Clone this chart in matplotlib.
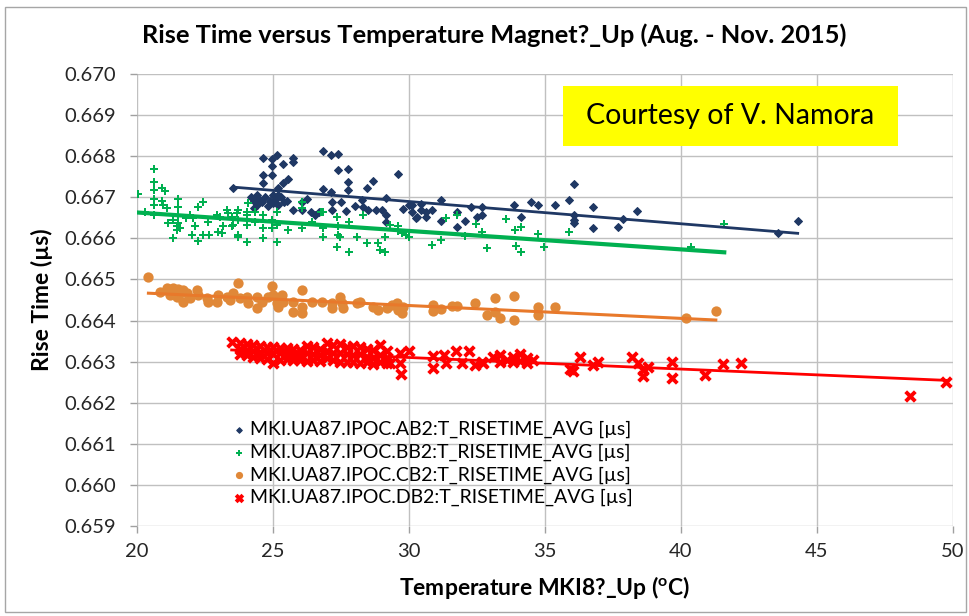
# -*- coding: utf-8 -*-
"""Rise time vs temperature (Aug. - Nov. 2015): 4 IPOC channels + linear trend lines."""
import numpy as np
import matplotlib; matplotlib.use('Agg')
import matplotlib.pyplot as plt
from matplotlib.patches import Rectangle

plt.rcParams['font.family'] = ['Lato', 'DejaVu Sans']
plt.rcParams['mathtext.fontset'] = 'custom'
plt.rcParams['mathtext.rm'] = 'Lato'
plt.rcParams['mathtext.bf'] = 'Lato:bold'

# --- AB2 (blue diamonds)
ab_x = [23.54, 24.64, 24.95, 25.14, 25.36, 25.75, 25.75, 24.64, 24.95, 24.64, 24.95, 25.56, 25.38,
        25.19, 26.85, 27.13, 27.38, 27.38, 27.75, 27.75, 27.75, 26.83, 27.13, 28.69, 28.45, 29.58,
        29.15, 28.26, 24.2, 24.3, 24.4, 24.4, 24.5, 24.6, 24.7, 24.8, 24.9, 25.0, 25.0, 25.1, 25.2,
        25.3, 25.4, 24.3, 25.2, 25.5, 25.75, 26.05, 26.05, 26.24, 26.40, 26.55, 26.70, 27.16, 27.16,
        27.50, 27.70, 28.00, 28.30, 28.50, 28.80, 29.00, 29.15, 29.15, 29.77, 30.10, 30.10, 30.30,
        30.00, 30.26, 30.45, 30.45, 30.63, 30.63, 30.85, 31.18, 31.18, 31.75, 31.75, 32.06, 32.27,
        32.49, 32.67, 32.67, 33.87, 34.10, 34.49, 34.75, 35.37, 35.89, 36.07, 36.07, 36.07, 36.07,
        36.78, 36.78, 37.67, 37.88, 38.37, 43.58, 44.29]
ab_y = [0.66722, 0.66795, 0.66792, 0.66803, 0.66781, 0.66795, 0.66787, 0.66754, 0.66754, 0.66734,
        0.66775, 0.66744, 0.66734, 0.66722, 0.66813, 0.66803, 0.66805, 0.66766, 0.66768, 0.66738,
        0.66718, 0.66720, 0.66714, 0.66740, 0.66723, 0.66756, 0.66698, 0.66693, 0.66700, 0.66690,
        0.66705, 0.66680, 0.66695, 0.66688, 0.66700, 0.66678, 0.66692, 0.66705, 0.66685, 0.66695,
        0.66680, 0.66700, 0.66688, 0.66675, 0.66705, 0.66692, 0.66669, 0.66689, 0.66669, 0.66695,
        0.66665, 0.66657, 0.66665, 0.66689, 0.66669, 0.66689, 0.66666, 0.66679, 0.66677, 0.66669,
        0.66669, 0.66669, 0.66657, 0.66640, 0.66671, 0.66680, 0.66665, 0.66651, 0.66681, 0.66649,
        0.66683, 0.66669, 0.66665, 0.66651, 0.66669, 0.66693, 0.66643, 0.66665, 0.66628, 0.66643,
        0.66677, 0.66651, 0.66676, 0.66657, 0.66681, 0.66651, 0.66689, 0.66681, 0.66680, 0.66693,
        0.66732, 0.66657, 0.66645, 0.66638, 0.66676, 0.66626, 0.66628, 0.66646, 0.66666, 0.66614,
        0.66642]

# --- BB2 (green plus)
bb_x = [20.05, 20.63, 20.63, 20.63, 20.63, 20.63, 20.63, 20.91, 21.03, 20.91, 20.97, 21.09, 21.15,
        21.33, 21.46, 21.52, 21.52, 21.52, 21.52, 21.46, 21.58, 21.33, 21.95, 22.07, 22.13, 22.25,
        22.44, 22.01, 22.25, 22.44, 22.66, 22.93, 23.05, 23.17, 22.99, 23.11, 23.36, 23.54, 23.66,
        23.73, 24.03, 24.03, 24.09, 20.30, 21.80, 22.60, 23.30, 23.48, 23.48, 23.72, 23.72, 23.72,
        24.03, 24.03, 24.34, 24.34, 24.64, 24.64, 24.64, 24.95, 24.95, 25.13, 25.13, 25.13, 25.56,
        26.05, 26.05, 26.05, 26.42, 26.75, 26.85, 26.85, 26.85, 27.35, 27.40, 27.40, 27.45, 27.35,
        27.80, 27.80, 28.10, 28.30, 28.45, 28.85, 28.95, 29.10, 29.10, 29.30, 29.60, 29.60, 29.90,
        29.73, 30.00, 30.86, 31.18, 31.36, 31.75, 32.06, 32.46, 32.67, 32.88, 33.56, 33.90, 33.92,
        34.10, 34.10, 34.75, 34.96, 35.89, 40.37, 41.59]
bb_y = [0.66707, 0.66768, 0.66738, 0.66718, 0.66697, 0.66681, 0.66657, 0.66722, 0.66715, 0.66691,
        0.66681, 0.66673, 0.66637, 0.66645, 0.66629, 0.66697, 0.66677, 0.66657, 0.66637, 0.66620,
        0.66625, 0.66602, 0.66657, 0.66649, 0.66629, 0.66677, 0.66689, 0.66608, 0.66594, 0.66607,
        0.66608, 0.66657, 0.66653, 0.66629, 0.66616, 0.66612, 0.66661, 0.66633, 0.66661, 0.66608,
        0.66592, 0.66665, 0.66685, 0.66665, 0.66650, 0.66640, 0.66669, 0.66653, 0.66629, 0.66669,
        0.66645, 0.66604, 0.66657, 0.66633, 0.66665, 0.66641, 0.66657, 0.66625, 0.66600, 0.66645,
        0.66625, 0.66665, 0.66633, 0.66592, 0.66621, 0.66689, 0.66673, 0.66625, 0.66641, 0.66665,
        0.66665, 0.66625, 0.66604, 0.66653, 0.66629, 0.66609, 0.66604, 0.66580, 0.66641, 0.66568,
        0.66603, 0.66657, 0.66588, 0.66588, 0.66572, 0.66568, 0.66604, 0.66633, 0.66629, 0.66617,
        0.66608, 0.66612, 0.66604, 0.66584, 0.66596, 0.66649, 0.66657, 0.66606, 0.66636, 0.66616,
        0.66576, 0.66646, 0.66620, 0.66581, 0.66567, 0.66627, 0.66611, 0.66579, 0.66616, 0.66579,
        0.66634]

# --- CB2 (orange dots)
cb_x = [20.42, 23.72, 24.95, 26.05, 21.09, 21.34, 21.52, 21.70, 21.22, 21.46, 21.70, 21.95, 22.19,
        22.25, 22.56, 22.62, 22.99, 22.93, 23.30, 23.42, 23.54, 23.79, 24.03, 24.09, 24.40, 24.40,
        24.58, 24.83, 25.01, 25.14, 25.32, 25.38, 25.20, 25.75, 25.73, 26.05, 26.05, 26.42, 26.79,
        27.16, 27.16, 27.47, 27.53, 27.59, 28.08, 28.20, 28.69, 28.87, 29.18, 29.36, 29.55, 29.61,
        29.73, 29.79, 20.85, 21.58, 21.83, 21.34, 30.87, 30.87, 31.16, 31.57, 31.75, 32.43, 32.86,
        33.16, 33.16, 33.34, 33.87, 33.87, 34.75, 34.75, 35.36, 40.17, 41.28]
cb_y = [0.66505, 0.66491, 0.66483, 0.66474, 0.66479, 0.66479, 0.66477, 0.66475, 0.66462, 0.66457,
        0.66446, 0.66454, 0.66475, 0.66462, 0.66454, 0.66446, 0.66462, 0.66446, 0.66458, 0.66449,
        0.66466, 0.66454, 0.66458, 0.66442, 0.66458, 0.66430, 0.66446, 0.66458, 0.66462, 0.66442,
        0.66462, 0.66446, 0.66434, 0.66446, 0.66422, 0.66434, 0.66418, 0.66446, 0.66446, 0.66442,
        0.66430, 0.66458, 0.66442, 0.66430, 0.66442, 0.66446, 0.66434, 0.66426, 0.66430, 0.66438,
        0.66442, 0.66426, 0.66418, 0.66434, 0.66470, 0.66466, 0.66466, 0.66466, 0.66438, 0.66423,
        0.66428, 0.66436, 0.66436, 0.66442, 0.66414, 0.66454, 0.66422, 0.66407, 0.66460, 0.66402,
        0.66432, 0.66414, 0.66433, 0.66407, 0.66423]

# --- DB2 (red crosses)
db_x = [23.48,
        23.79, 23.79, 23.79, 24.03, 24.03, 24.03, 24.28, 24.28, 24.28, 24.52, 24.52, 24.52,
        24.77, 24.77, 24.77, 25.01, 25.01, 25.01, 25.26, 25.26, 25.26, 25.50, 25.50, 25.50,
        25.75, 25.75, 25.75, 25.99, 25.99, 25.99, 26.24, 26.24, 26.24, 26.48, 26.48, 26.48,
        26.73, 26.73, 26.73, 26.97, 26.97, 26.97, 27.22, 27.22, 27.22, 27.46, 27.46, 27.46,
        27.71, 27.71, 27.71, 27.95, 27.95, 27.95, 28.20, 28.20, 28.20, 28.44, 28.44, 28.44,
        28.69, 28.69, 28.69, 28.93, 28.93, 28.93, 29.18, 29.18, 29.18,
        29.67, 29.67, 29.72, 30.00, 29.30, 30.89, 30.89, 31.30, 31.35, 31.71, 32.20, 31.95, 32.44,
        32.69, 32.73, 33.10, 33.35, 33.35, 33.59, 33.84, 33.84, 34.08, 34.08, 34.33, 34.33, 34.57,
        35.92, 36.04, 36.29, 36.78, 36.96, 38.19, 38.43, 38.62, 38.62, 38.80, 39.66, 39.66, 40.88,
        41.55, 42.20, 48.42, 49.73]
db_y = [0.66349,
        0.66345, 0.66330, 0.66318, 0.66342, 0.66328, 0.66315, 0.66340, 0.66326, 0.66312,
        0.66338, 0.66322, 0.66310, 0.66336, 0.66320, 0.66306, 0.66335, 0.66318, 0.66297,
        0.66334, 0.66320, 0.66305, 0.66333, 0.66318, 0.66306, 0.66330, 0.66316, 0.66304,
        0.66328, 0.66314, 0.66303, 0.66338, 0.66320, 0.66302, 0.66335, 0.66318, 0.66305,
        0.66330, 0.66315, 0.66302, 0.66345, 0.66325, 0.66308, 0.66340, 0.66322, 0.66305,
        0.66342, 0.66320, 0.66300, 0.66335, 0.66318, 0.66298, 0.66338, 0.66315, 0.66300,
        0.66336, 0.66318, 0.66296, 0.66330, 0.66312, 0.66298, 0.66328, 0.66310, 0.66295,
        0.66340, 0.66315, 0.66300, 0.66325, 0.66310, 0.66296,
        0.66321, 0.66297, 0.66271, 0.66325, 0.66297, 0.66313, 0.66285, 0.66317, 0.66297, 0.66325,
        0.66325, 0.66296, 0.66292, 0.66300, 0.66296, 0.66312, 0.66300, 0.66316, 0.66304, 0.66312,
        0.66298, 0.66318, 0.66302, 0.66310, 0.66296, 0.66305, 0.66283, 0.66276, 0.66312, 0.66292,
        0.66300, 0.66312, 0.66296, 0.66280, 0.66264, 0.66288, 0.66300, 0.66260, 0.66268, 0.66294,
        0.66297, 0.66217, 0.66250]

LABELS = ['MKI.UA87.IPOC.AB2:T_RISETIME_AVG [µs]', 'MKI.UA87.IPOC.BB2:T_RISETIME_AVG [µs]',
          'MKI.UA87.IPOC.CB2:T_RISETIME_AVG [µs]', 'MKI.UA87.IPOC.DB2:T_RISETIME_AVG [µs]']

series = [
    (ab_x, ab_y, dict(marker='D', s=16, c='#1f3864', linewidths=0.8, edgecolors='#1f3864'), '#1f3864', 2.0),
    (bb_x, bb_y, dict(marker='P', s=40, c='#00b050', linewidths=0), '#00b050', 3.0),
    (cb_x, cb_y, dict(marker='o', s=55, c='#e08838', linewidths=0), '#e8792b', 2.2),
    (db_x, db_y, dict(marker='x', s=48, c='#ff0000', linewidths=2.8), '#ff0000', 2.0),
]

fig = plt.figure(figsize=(9.69, 6.16), dpi=100)
ax = fig.add_axes([137 / 969, 1 - 526 / 616, (953 - 137) / 969, (526 - 74) / 616])

for (x, y, kw, lc, lw), lab in zip(series, LABELS):
    x = np.asarray(x); y = np.asarray(y)
    ax.scatter(x, y, label=lab, zorder=3, **kw)
    k, b = np.polyfit(x, y, 1)          # lineare Trendlinie wie in Excel
    xx = np.array([x.min(), x.max()])
    ax.plot(xx, k * xx + b, color=lc, lw=lw, zorder=4)

ax.set_xlim(20, 50); ax.set_ylim(0.659, 0.670)
ax.set_xticks(np.arange(20, 51, 5))
ax.set_yticks(np.arange(0.659, 0.6705, 0.001))
ax.yaxis.set_major_formatter(plt.FormatStrFormatter('%.3f'))
ax.grid(True, color='#c0c0c0', lw=1)
ax.set_axisbelow(True)
for sp in ax.spines.values():
    sp.set_visible(False)
ax.tick_params(axis='both', colors='#a0a0a0', labelcolor='#262626', labelsize=14.5, length=5, width=1)
ax.tick_params(axis='x', pad=7)
ax.tick_params(axis='y', pad=10)

ax.set_title('Rise Time versus Temperature Magnet?_Up (Aug. - Nov. 2015)', fontsize=18.3,
             fontweight='bold', pad=22, x=0.4375)
ax.set_xlabel(r'Temperature MKI8?_Up ($\mathbf{^{o}}$C)', fontsize=16.5, fontweight='bold', labelpad=10)
ax.set_ylabel('Rise Time (µs)', fontsize=16.5, fontweight='bold', labelpad=8)

# gelbe Box "Courtesy of ..."
ax.add_patch(Rectangle((0.522, 0.8407), 0.4106, 0.1328, transform=ax.transAxes,
                       fc='#ffff00', ec='none', zorder=5))
ax.text(0.727, 0.907, 'Courtesy of V. Namora', transform=ax.transAxes, ha='center', va='center',
        fontsize=20.5, color='black', zorder=6)

ax.legend(loc='upper left', bbox_to_anchor=(0.103, 0.25), frameon=False, fontsize=14,
          handletextpad=0.1, labelspacing=0.28, borderaxespad=0, markerscale=0.7,
          handlelength=1.0)

fig.patches.append(Rectangle((5 / 969, 4 / 616), 961 / 969, 605 / 616, transform=fig.transFigure,
                             fill=False, ec='#a6a6a6', lw=1))

fig.savefig('out.png', dpi=100)
